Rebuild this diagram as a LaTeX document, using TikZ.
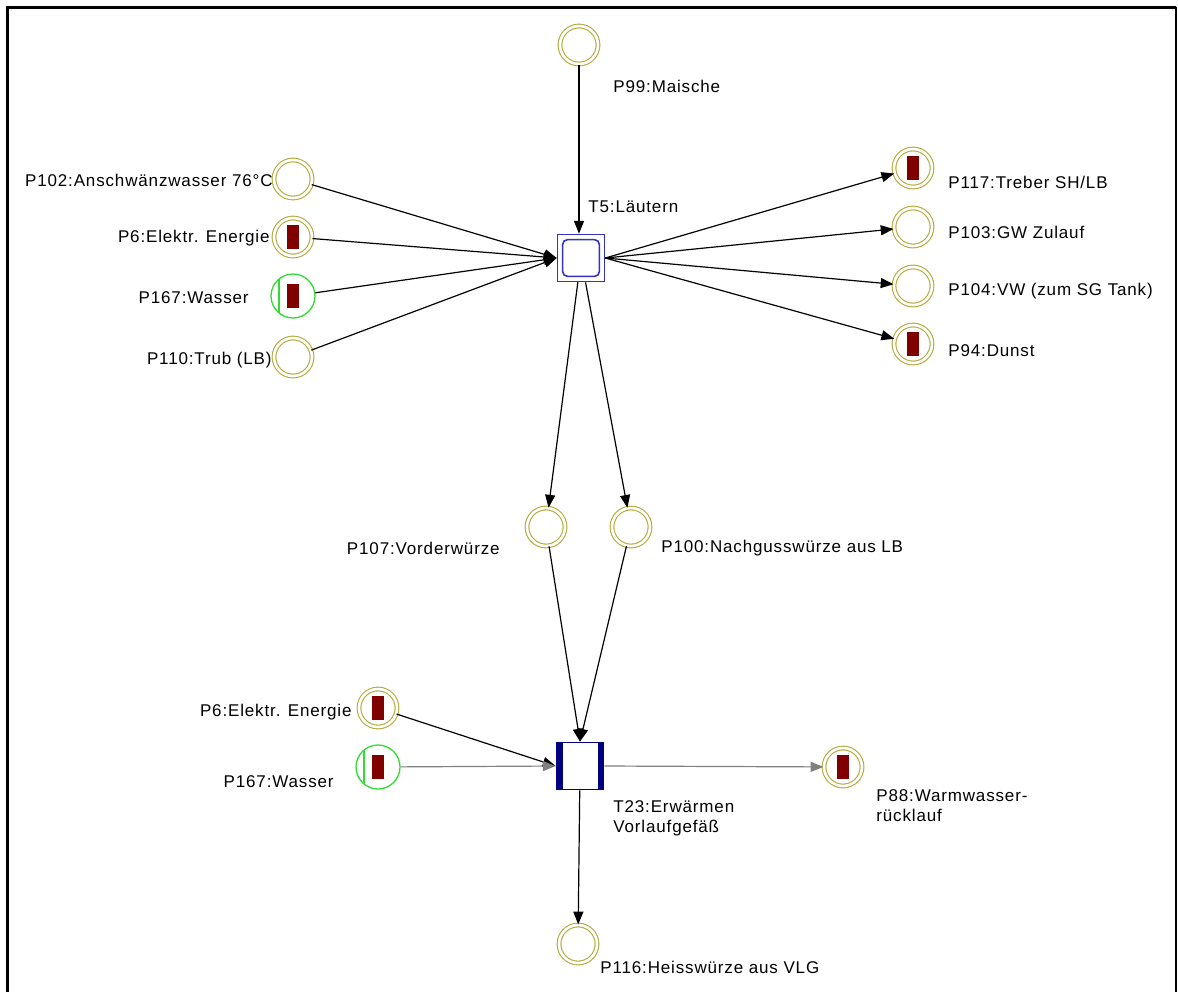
\documentclass[tikz,border=0pt]{standalone}
\usepackage{fontspec}
\setmainfont{Liberation Sans}
\newfontfamily\lblfont[LetterSpace=5]{Liberation Sans}
\usetikzlibrary{arrows.meta}
\definecolor{placecol}{RGB}{180,170,60}
\definecolor{tokcol}{RGB}{128,0,0}
\definecolor{greencol}{RGB}{50,220,50}
\definecolor{tblue}{RGB}{50,50,200}
\definecolor{tnavy}{RGB}{0,0,128}
\definecolor{arcgray}{RGB}{128,128,128}
\tikzset{
  place/.style={circle, draw=placecol, line width=0.55pt, double=white,
    double distance=1.3pt, minimum size=19pt, inner sep=0pt},
  token/.style={path picture={
    \fill[tokcol] ([xshift=-2.8pt,yshift=-6pt]path picture bounding box.center)
      rectangle ([xshift=2.8pt,yshift=6pt]path picture bounding box.center);}},
  greenplace/.style={circle, draw=greencol, line width=0.65pt, minimum size=22pt,
    inner sep=0pt, path picture={
    \draw[greencol, line width=0.65pt]
      ([xshift=-7pt,yshift=-12pt]path picture bounding box.center) --
      ([xshift=-7pt,yshift=12pt]path picture bounding box.center);
    \fill[tokcol] ([xshift=-2.8pt,yshift=-6pt]path picture bounding box.center)
      rectangle ([xshift=2.8pt,yshift=6pt]path picture bounding box.center);}},
  trans/.style={rectangle, draw=tblue, line width=0.8pt, minimum size=23.5pt,
    inner sep=0pt, path picture={
    \draw[tblue, line width=0.8pt, rounded corners=2.5pt]
      ([xshift=-9.2pt,yshift=-9.2pt]path picture bounding box.center)
      rectangle ([xshift=9.2pt,yshift=9.2pt]path picture bounding box.center);}},
  heattrans/.style={rectangle, draw=tnavy, line width=0.9pt, minimum size=23.5pt,
    inner sep=0pt, path picture={
    \fill[tnavy] (path picture bounding box.north west)
      rectangle ([xshift=3.2pt]path picture bounding box.south west);
    \fill[tnavy] ([xshift=-3pt]path picture bounding box.north east)
      rectangle (path picture bounding box.south east);}},
  lbl/.style={inner sep=0pt, font=\lblfont\fontsize{8.5}{10}\selectfont, align=left},
  arc/.style={draw=black, line width=0.6pt, -{Triangle[length=6.4pt,width=5pt]}},
  grayarc/.style={draw=arcgray, line width=0.6pt,
    -{Triangle[length=6.4pt,width=5pt]}, arcgray},
}
\begin{document}
\begin{tikzpicture}[x=0.5pt,y=-0.5pt]
\useasboundingbox (0,0) rectangle (1178,992);
% frame
\draw[line width=1.5pt] (7,992) -- (7,7) -- (1176,7);
\draw[line width=1.1pt] (1176,7) -- (1176,992);

% transitions
\node[trans] (t5) at (581,258) {};
\node[heattrans] (t23) at (580,766) {};

% places around T5
\node[place] (p99) at (579,45) {};
\node[place] (p102) at (293,179) {};
\node[place, token] (p6a) at (293,237) {};
\node[greenplace] (p167a) at (293,296) {};
\node[place] (p110) at (293,357) {};
\node[place, token] (p117) at (913,168) {};
\node[place] (p103) at (913,227) {};
\node[place] (p104) at (913,286) {};
\node[place, token] (p94) at (913,344) {};
\node[place] (p107) at (546,527) {};
\node[place] (p100) at (631,527) {};

% places around T23
\node[place, token] (p6b) at (378,708) {};
\node[greenplace] (p167b) at (378,767) {};
\node[place, token] (p88) at (843,767) {};
\node[place] (p116) at (578,944) {};

% labels
\node[lbl, anchor=west] (l99) at (613,86) {P99:Maische};
\node[lbl, anchor=west] (lt5) at (588,207) {T5:Läutern};
\node[lbl, anchor=east] (l102) at (273,180) {P102:Anschwänzwasser 76°C};
\node[lbl, anchor=east] (l6a) at (270,238) {P6:Elektr. Energie};
\node[lbl, anchor=east] (l167a) at (249,298) {P167:Wasser};
\node[lbl, anchor=east] (l110) at (272,360) {P110:Trub (LB)};
\node[lbl, anchor=west] (l117) at (948,182) {P117:Treber SH/LB};
\node[lbl, anchor=west] (l103) at (948,232) {P103:GW Zulauf};
\node[lbl, anchor=west] (l104) at (948,291) {P104:VW (zum SG Tank)};
\node[lbl, anchor=west] (l94) at (948,351) {P94:Dunst};
\node[lbl, anchor=east] (l107) at (500,548) {P107:Vorderwürze};
\node[lbl, anchor=west] (l100) at (661,548) {P100:Nachgusswürze aus LB};
\node[lbl, anchor=east] (l6b) at (352,712) {P6:Elektr. Energie};
\node[lbl, anchor=east] (l167b) at (334,782) {P167:Wasser};
\node[lbl, anchor=north west] (lt23) at (613,800) {T23:Erwärmen\\Vorlaufgefäß};
\node[lbl, anchor=north west] (l88) at (876,789) {P88:Warmwasser-\\rücklauf};
\node[lbl, anchor=west] (l116) at (600,967) {P116:Heisswürze aus VLG};

% arcs into and out of T5
\draw[arc] (p99) -- (p99 |- t5.north);
\draw[arc] (p102) -- (t5.west);
\draw[arc] (p6a) -- (t5.west);
\draw[arc] (p167a) -- (t5.west);
\draw[arc] (p110) -- (t5.west);
\draw[arc] (t5.east) -- (p117);
\draw[arc] (t5.east) -- (p103);
\draw[arc] (t5.east) -- (p104);
\draw[arc] (t5.east) -- (p94);
\draw[arc] (t5) -- (p107);
\draw[arc] (t5) -- (p100);

% arcs into and out of T23
\draw[arc] (p107) -- (t23.north);
\draw[arc] (p100) -- (t23.north);
\draw[arc] (p6b) -- (t23.west);
\draw[grayarc] (p167b) -- (t23.west);
\draw[grayarc] (t23.east) -- (p88);
\draw[arc] (t23) -- (p116);
\end{tikzpicture}
\end{document}
